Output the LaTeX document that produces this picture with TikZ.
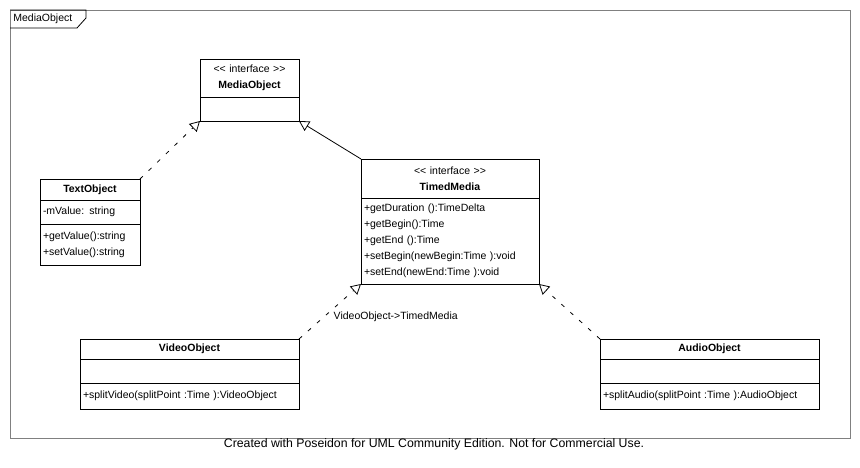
\documentclass[tikz,border=0pt]{standalone}
\usepackage{fontspec}
\setmainfont{Liberation Sans}
\usetikzlibrary{arrows.meta, positioning}

\newcommand{\stereo}[1]{<\kern0pt< #1 >\kern0pt>}

\begin{document}
\begin{tikzpicture}[x=1pt, y=-1pt, line width=0.8pt, font=\fontsize{10.5}{16}\selectfont]
	\tikzstyle{part} = [draw, anchor=north west, inner xsep=3pt, inner ysep=0pt, outer sep=0pt, align=left]
	\tikzstyle{title} = [part, align=center]
	\tikzstyle{impl} = [-{Triangle[open, length=10pt, width=11pt]}, dash pattern=on 4pt off 8pt]
	\tikzstyle{gen} = [-{Triangle[open, length=10pt, width=11pt]}]

	\useasboundingbox (0,0) rectangle (860,468);

	% frame
	\draw[gray] (10,10) rectangle (850,438);
	\draw (10,10) -- (86,10) -- (86,18) -- (77,28) -- (10,28);
	\node[anchor=west, inner sep=0pt] (tag) at (13,19) {MediaObject};

	% interfaces
	\node[title, text width=93pt, minimum height=38pt] (media-h) at (200,59) {\stereo{interface}\\\textbf{MediaObject}};
	\node[part, text width=93pt, minimum height=24pt] (media-o) at (media-h.south west) {};

	\node[title, text width=172pt, minimum height=39pt] (timed-h) at (361,159) {\stereo{interface}\\\textbf{TimedMedia}};
	\node[part, text width=172pt, minimum height=86pt] (timed-o) at (timed-h.south west)
		{+getDuration ():TimeDelta\\+getBegin():Time\\+getEnd ():Time\\+setBegin(newBegin:Time ):void\\+setEnd(newEnd:Time ):void};

	% classes
	\node[title, text width=94pt, minimum height=21pt] (text-h) at (40,179) {\textbf{TextObject}};
	\node[part, text width=94pt, minimum height=24pt] (text-a) at (text-h.south west) {-mValue: string};
	\node[part, text width=94pt, minimum height=41pt] (text-o) at (text-a.south west) {+getValue():string\\+setValue():string};

	\node[title, text width=213pt, minimum height=20pt] (video-h) at (80,339) {\textbf{VideoObject}};
	\node[part, text width=213pt, minimum height=24pt] (video-a) at (video-h.south west) {};
	\node[part, text width=213pt, minimum height=26pt] (video-o) at (video-a.south west) {+splitVideo(splitPoint :Time ):VideoObject};

	\node[title, text width=213pt, minimum height=20pt] (audio-h) at (600,339) {\textbf{AudioObject}};
	\node[part, text width=213pt, minimum height=24pt] (audio-a) at (audio-h.south west) {};
	\node[part, text width=213pt, minimum height=26pt] (audio-o) at (audio-a.south west) {+splitAudio(splitPoint :Time ):AudioObject};

	% relations
	\draw[impl] (text-h.north east) -- (media-o.south west);
	\draw[gen] (timed-h.north west) -- (media-o.south east);
	\draw[impl] (video-h.north east) -- node[anchor=west, yshift=-5.5pt] (vlabel) {VideoObject->TimedMedia} (timed-o.south west);
	\draw[impl] (audio-h.north west) -- (timed-o.south east);

	\node[font=\fontsize{12.3}{14}\selectfont] (note) at (434,444) {Created with Poseidon for UML Community Edition. Not for Commercial Use.};
\end{tikzpicture}
\end{document}
